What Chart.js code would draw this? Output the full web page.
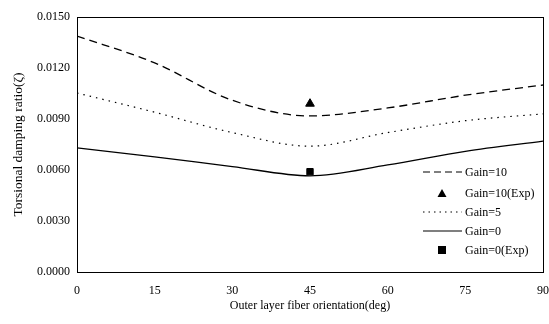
<!DOCTYPE html>
<html>
<head>
<meta charset="utf-8">
<script src="https://cdn.jsdelivr.net/npm/chart.js@4/dist/chart.umd.min.js"></script>
<style>
    body { margin: 0; background: #fff; }
    #wrap { width: 549px; height: 324px; }
</style>
</head>
<body>
<div id="wrap"><canvas id="chart"></canvas></div>
<script>
// data
const angles = [0, 15, 30, 45, 60, 75, 90];
const gain10 = [0.01388, 0.0123, 0.0101, 0.00918, 0.00965, 0.0104, 0.0110];
const gain5 = [0.01053, 0.0094, 0.0082, 0.0074, 0.0082, 0.0089, 0.0093];
const gain0 = [0.0073, 0.00677, 0.0062, 0.00566, 0.0063, 0.0071, 0.0077];
const expAngle = 45;
const gain10Exp = 0.0099;
const gain0Exp = 0.0059;
const yTicks = [0, 0.003, 0.006, 0.009, 0.012, 0.015];

const FONT = 'Liberation Serif, Times New Roman, serif';

function toPoints(ys) {
    return angles.map((a, i) => ({ x: a, y: ys[i] }));
}

// frame around plot area
const framePlugin = {
    id: 'frame',
    afterDraw(chart) {
        const a = chart.chartArea;
        const ctx = chart.ctx;
        ctx.save();
        ctx.strokeStyle = '#000';
        ctx.lineWidth = 1;
        ctx.strokeRect(Math.round(a.left) + 0.5, Math.round(a.top) + 0.5,
            Math.round(a.right - a.left), Math.round(a.bottom - a.top));
        ctx.restore();
    }
};

// legend drawn inside plot, lower right
const legendPlugin = {
    id: 'innerLegend',
    afterDraw(chart) {
        const ctx = chart.ctx;
        const items = [
            { label: 'Gain=10', type: 'line', dash: [7, 4] },
            { label: 'Gain=10(Exp)', type: 'triangle' },
            { label: 'Gain=5', type: 'line', dash: [1.5, 4] },
            { label: 'Gain=0', type: 'line', dash: [] },
            { label: 'Gain=0(Exp)', type: 'square' }
        ];
        const ys = [172, 193, 212, 231, 250];
        ctx.save();
        ctx.font = '12px ' + FONT;
        ctx.fillStyle = '#000';
        ctx.strokeStyle = '#000';
        ctx.textBaseline = 'middle';
        items.forEach((it, i) => {
            const y = ys[i];
            if (it.type === 'line') {
                ctx.lineWidth = 1.2;
                ctx.setLineDash(it.dash);
                ctx.beginPath();
                ctx.moveTo(423, y);
                ctx.lineTo(462, y);
                ctx.stroke();
                ctx.setLineDash([]);
            } else if (it.type === 'triangle') {
                ctx.beginPath();
                ctx.moveTo(442, y - 4);
                ctx.lineTo(446.5, y + 4);
                ctx.lineTo(437.5, y + 4);
                ctx.closePath();
                ctx.fill();
            } else {
                ctx.fillRect(438, y - 4, 8, 8);
            }
            ctx.fillText(it.label, 465, y + 1);
        });
        ctx.restore();
    }
};

new Chart(document.getElementById('chart'), {
    type: 'line',
    data: {
        datasets: [
            {
                label: 'Gain=10',
                data: toPoints(gain10),
                borderColor: '#000',
                borderWidth: 1.3,
                borderDash: [8, 5],
                pointRadius: 0,
                cubicInterpolationMode: 'monotone'
            },
            {
                label: 'Gain=10(Exp)',
                data: [{ x: expAngle, y: gain10Exp }],
                showLine: false,
                pointStyle: 'triangle',
                pointRadius: 5,
                backgroundColor: '#000',
                borderColor: '#000'
            },
            {
                label: 'Gain=5',
                data: toPoints(gain5),
                borderColor: '#000',
                borderWidth: 1.2,
                borderDash: [1.5, 5],
                pointRadius: 0,
                cubicInterpolationMode: 'monotone'
            },
            {
                label: 'Gain=0',
                data: toPoints(gain0),
                borderColor: '#000',
                borderWidth: 1.3,
                pointRadius: 0,
                cubicInterpolationMode: 'monotone'
            },
            {
                label: 'Gain=0(Exp)',
                data: [{ x: expAngle, y: gain0Exp }],
                showLine: false,
                pointStyle: 'rect',
                pointRadius: 4.5,
                backgroundColor: '#000',
                borderColor: '#000'
            }
        ]
    },
    options: {
        responsive: true,
        maintainAspectRatio: false,
        animation: false,
        layout: { padding: { top: 17, right: 4, left: 0, bottom: 0 } },
        plugins: {
            legend: { display: false },
            tooltip: { enabled: false }
        },
        scales: {
            x: {
                type: 'linear',
                min: 0,
                max: 90,
                ticks: {
                    stepSize: 15,
                    color: '#000',
                    font: { family: FONT, size: 12 },
                    padding: 12
                },
                grid: { display: false, drawTicks: false },
                border: { color: '#000' },
                title: {
                    display: true,
                    text: 'Outer layer fiber orientation(deg)',
                    color: '#000',
                    font: { family: FONT, size: 12 },
                    padding: { top: 0, bottom: 11 }
                },
                afterFit(scale) {
                    scale.height = 52;
                    scale.paddingLeft = 0;
                    scale.paddingRight = 0;
                }
            },
            y: {
                min: 0,
                max: 0.015,
                afterBuildTicks(scale) {
                    scale.ticks = yTicks.map(v => ({ value: v }));
                },
                ticks: {
                    color: '#000',
                    font: { family: FONT, size: 12 },
                    padding: 7,
                    callback: v => Number(v).toFixed(4)
                },
                grid: { display: false, drawTicks: false },
                border: { color: '#000' },
                title: {
                    display: true,
                    text: 'Torsional damping ratio(ζ)',
                    color: '#000',
                    font: { family: FONT, size: 13.5 },
                    padding: { top: 10, bottom: 4 }
                },
                afterFit(scale) {
                    scale.width = 77;
                    scale.paddingTop = 0;
                    scale.paddingBottom = 0;
                }
            }
        }
    },
    plugins: [framePlugin, legendPlugin]
});
</script>
</body>
</html>
